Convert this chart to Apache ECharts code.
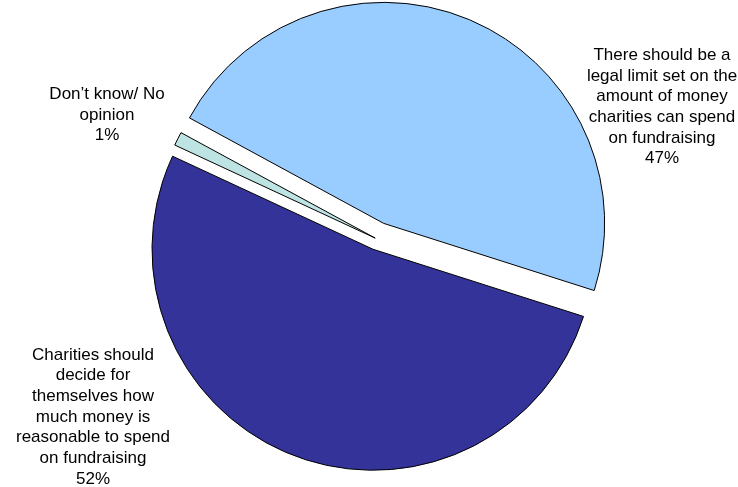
<!DOCTYPE html>
<html>
<head>
<meta charset="utf-8">
<script src="https://cdn.jsdelivr.net/npm/echarts@6/dist/echarts.min.js"></script>
<style>
  html, body { margin: 0; padding: 0; background: #ffffff; }
  #chart { width: 738px; height: 487px; }
</style>
</head>
<body>
<div id="chart"></div>
<script>
// Survey answers on limiting charity fundraising spend
const categories = [
  'There should be a\nlegal limit set on the\namount of money\ncharities can spend\non fundraising',
  'Charities should\ndecide for\nthemselves how\nmuch money is\nreasonable to spend\non fundraising',
  'Don\u2019t know/ No\nopinion'
];
const shares = [47, 52, 1];

// Styling and layout
const colors = ['#99CCFF', '#333399', '#BDE3E3'];
const explode = [17, 11, 2];           // radial pull-out of each slice, px
const labelCenters = [[662, 107], [93, 417], [107, 115]];
const pieCenter = [377, 239];
const pieRadius = 221;
const startAngle = 151.5;

const total = shares.reduce((a, b) => a + b, 0);

// One pie series per slice so each slice can carry its own pull-out distance;
// the other slices in that series are left invisible.
const series = [];
let cursor = startAngle;
shares.forEach((v, i) => {
  const span = 360 * v / total;
  const mid = (cursor - span / 2) * Math.PI / 180;
  cursor -= span;
  const cx = pieCenter[0] + explode[i] * Math.cos(mid);
  const cy = pieCenter[1] - explode[i] * Math.sin(mid);
  series.push({
    type: 'pie',
    center: [cx, cy],
    radius: [0, pieRadius],
    startAngle: startAngle,
    clockwise: true,
    avoidLabelOverlap: false,
    silent: true,
    animation: false,
    z: 2 + i,
    labelLine: { show: false },
    labelLayout: function () {
      return { x: labelCenters[i][0], y: labelCenters[i][1], align: 'center', verticalAlign: 'middle' };
    },
    data: categories.map((name, j) => ({
      name: name,
      value: shares[j],
      itemStyle: j === i
        ? { color: colors[j], borderColor: '#000000', borderWidth: 1 }
        : { color: 'rgba(0,0,0,0)', borderWidth: 0 },
      label: j === i
        ? {
            show: true,
            position: 'outside',
            formatter: '{b}\n{d}%',
            fontFamily: '"Liberation Sans", Arial, sans-serif',
            fontSize: 17,
            lineHeight: 20.7,
            color: '#000000',
            align: 'center'
          }
        : { show: false }
    }))
  });
});

const chart = echarts.init(document.getElementById('chart'), null, { renderer: 'canvas' });
chart.setOption({
  backgroundColor: '#ffffff',
  animation: false,
  series: series
});
</script>
</body>
</html>
